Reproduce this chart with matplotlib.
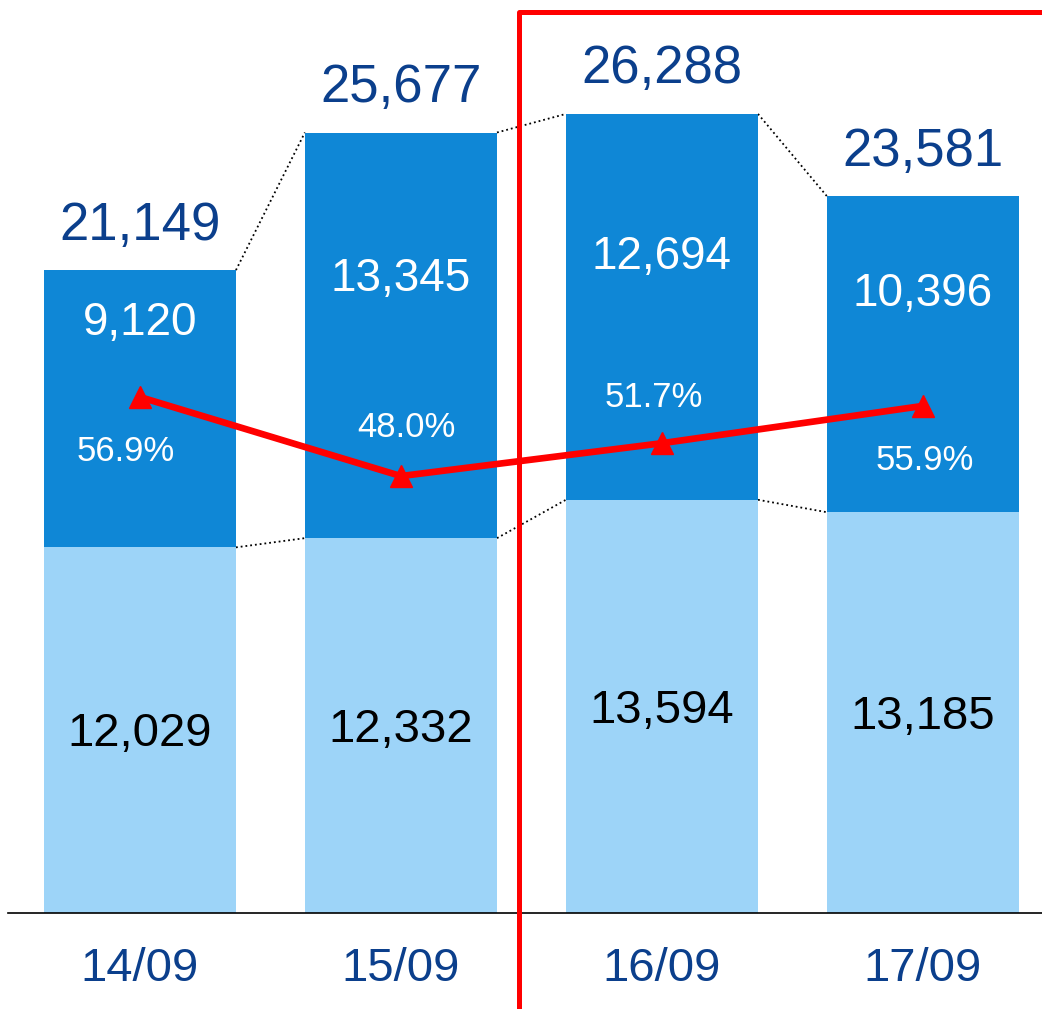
import matplotlib.pyplot as plt
from matplotlib.lines import Line2D

plt.rcParams['font.family'] = ['Liberation Sans', 'DejaVu Sans']

# data
dates = ['14/09', '15/09', '16/09', '17/09']
lower = [12029, 12332, 13594, 13185]
upper = [9120, 13345, 12694, 10396]
totals = [21149, 25677, 26288, 23581]
ratio = [56.9, 48.0, 51.7, 55.9]

# placement of the labels (styling only)
upper_frac = [0.81, 0.64, 0.63, 0.69]
pct_offset = [(-10, -39), (4, 35), (-6, 33), (1, -39)]

dark = '#0F87D6'
light = '#9DD4F8'
navy = '#0B3F8C'
red = '#FF0000'

fig = plt.figure(figsize=(10.42, 10.09), dpi=100)
ax = fig.add_axes([0, 0, 1, 1])
x = list(range(len(dates)))
w = 0.736

ax.bar(x, lower, width=w, color=light, zorder=2)
ax.bar(x, upper, width=w, bottom=lower, color=dark, zorder=2)

# dotted connectors between the bars
for i in range(len(x) - 1):
    ax.plot([i + w/2, i + 1 - w/2], [totals[i], totals[i+1]], ls=':', color='black', lw=1.3, zorder=1)
    ax.plot([i + w/2, i + 1 - w/2], [lower[i], lower[i+1]], ls=':', color='black', lw=1.3, zorder=1)

for i in x:
    ax.annotate(f'{totals[i]:,}', (i, totals[i]), xytext=(0, 22), textcoords='offset points',
                ha='center', va='baseline', fontsize=38, color=navy)
    ax.text(i, lower[i] + upper[i]*upper_frac[i], f'{upper[i]:,}', ha='center', va='center',
            fontsize=33, color='white', zorder=3)
    ax.annotate(f'{lower[i]:,}', (i, lower[i]/2), xytext=(0, -3), textcoords='offset points',
                ha='center', va='center', fontsize=34, color='black', zorder=3)
    ax.annotate(dates[i], (i, 0), xytext=(0, -40), textcoords='offset points',
                ha='center', va='center', fontsize=34, color=navy)

ax.set_xlim(-0.536, 3.456)
ax.set_ylim(-3158, 30036)
ax.axhline(0, xmin=8/1042, xmax=1, color='black', lw=1.2, zorder=4)
ax.axis('off')

# ratio line on its own scale
ax2 = ax.twinx()
ax2.plot(x, ratio, color=red, lw=4.8, marker='^', markersize=16, zorder=5)
for i in x:
    ax2.annotate(f'{ratio[i]}%', (i, ratio[i]), xytext=pct_offset[i], textcoords='offset points',
                 ha='center', va='center', fontsize=25, color='white')
ax2.set_ylim(-12, 101.6)
ax2.axis('off')

# red frame around the forecast days
fig.add_artist(Line2D([519/1042, 519/1042, 1.0], [0.0, 1 - 12/1009, 1 - 12/1009],
                      transform=fig.transFigure, color=red, lw=3.6, solid_joinstyle='round'))

fig.savefig('out.png', dpi=100)
